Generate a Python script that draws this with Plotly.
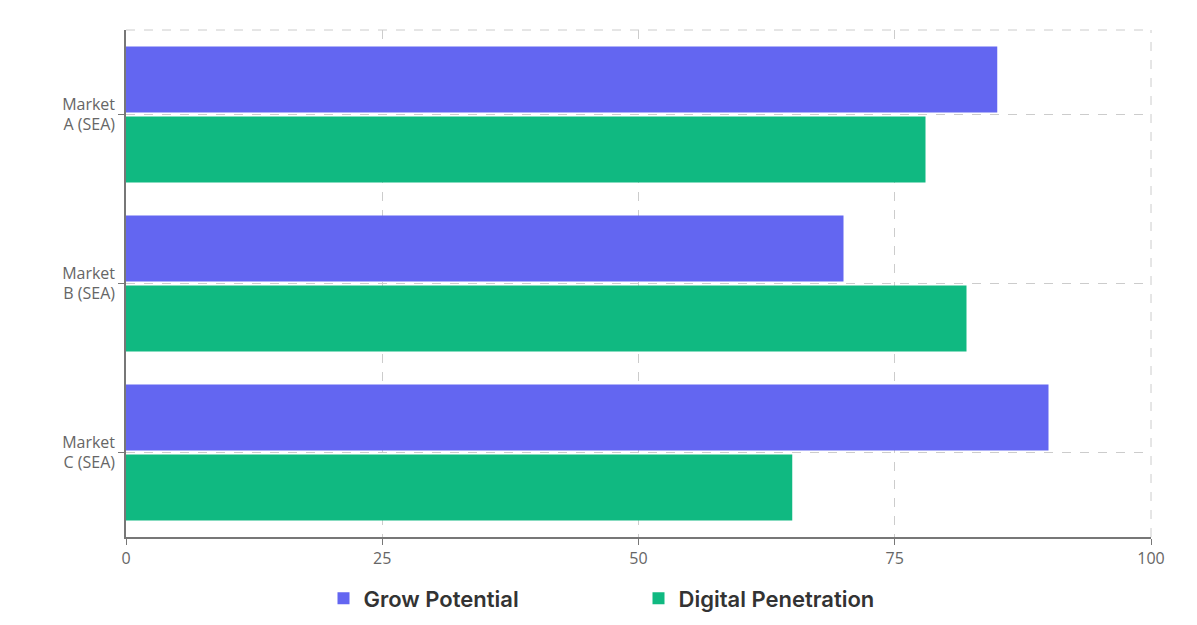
import plotly.graph_objects as go

categories = ["Market<br>A (SEA)", "Market<br>B (SEA)", "Market<br>C (SEA)"]
grow_potential = [85, 70, 90]
digital_penetration = [78, 82, 65]
x_ticks = [0, 25, 50, 75, 100]

fig = go.Figure()
fig.add_trace(go.Bar(y=categories, x=grow_potential, orientation="h", name="Grow Potential",
                     marker=dict(color="#6366f1", line=dict(width=0))))
fig.add_trace(go.Bar(y=categories, x=digital_penetration, orientation="h", name="Digital Penetration",
                     marker=dict(color="#10b981", line=dict(width=0))))

fig.update_layout(
    width=1197, height=625,
    paper_bgcolor="white", plot_bgcolor="white",
    font=dict(family="Open Sans", color="#666666", size=16),
    margin=dict(l=118, r=54, t=22, b=96),
    barmode="group", bargap=0.17, bargroupgap=0.06,
    legend=dict(orientation="h", x=0.5, xanchor="center", y=-0.08, yanchor="top",
                font=dict(size=22, color="#333333", family="Inter SemiBold, Inter"),
                itemwidth=30, traceorder="normal", entrywidth=270),
    xaxis=dict(range=[0, 100], tickvals=x_ticks, showgrid=True, gridcolor="#cccccc", griddash="dash",
               showline=True, linecolor="#777777", linewidth=1.5, ticks="outside", tickcolor="#777777", ticklen=6,
               zeroline=False),
    yaxis=dict(autorange="reversed", showgrid=True, gridcolor="#cccccc", griddash="dash",
               showline=True, linecolor="#777777", linewidth=1.5, ticks="outside", tickcolor="#777777", ticklen=6),
    shapes=[
        dict(type="line", xref="paper", yref="paper", x0=0, x1=1, y0=1, y1=1,
             line=dict(color="#cccccc", dash="dash", width=1)),
        dict(type="line", xref="paper", yref="paper", x0=1, x1=1, y0=0, y1=1,
             line=dict(color="#cccccc", dash="dash", width=1)),
    ],
)
fig.write_html("out.html")
